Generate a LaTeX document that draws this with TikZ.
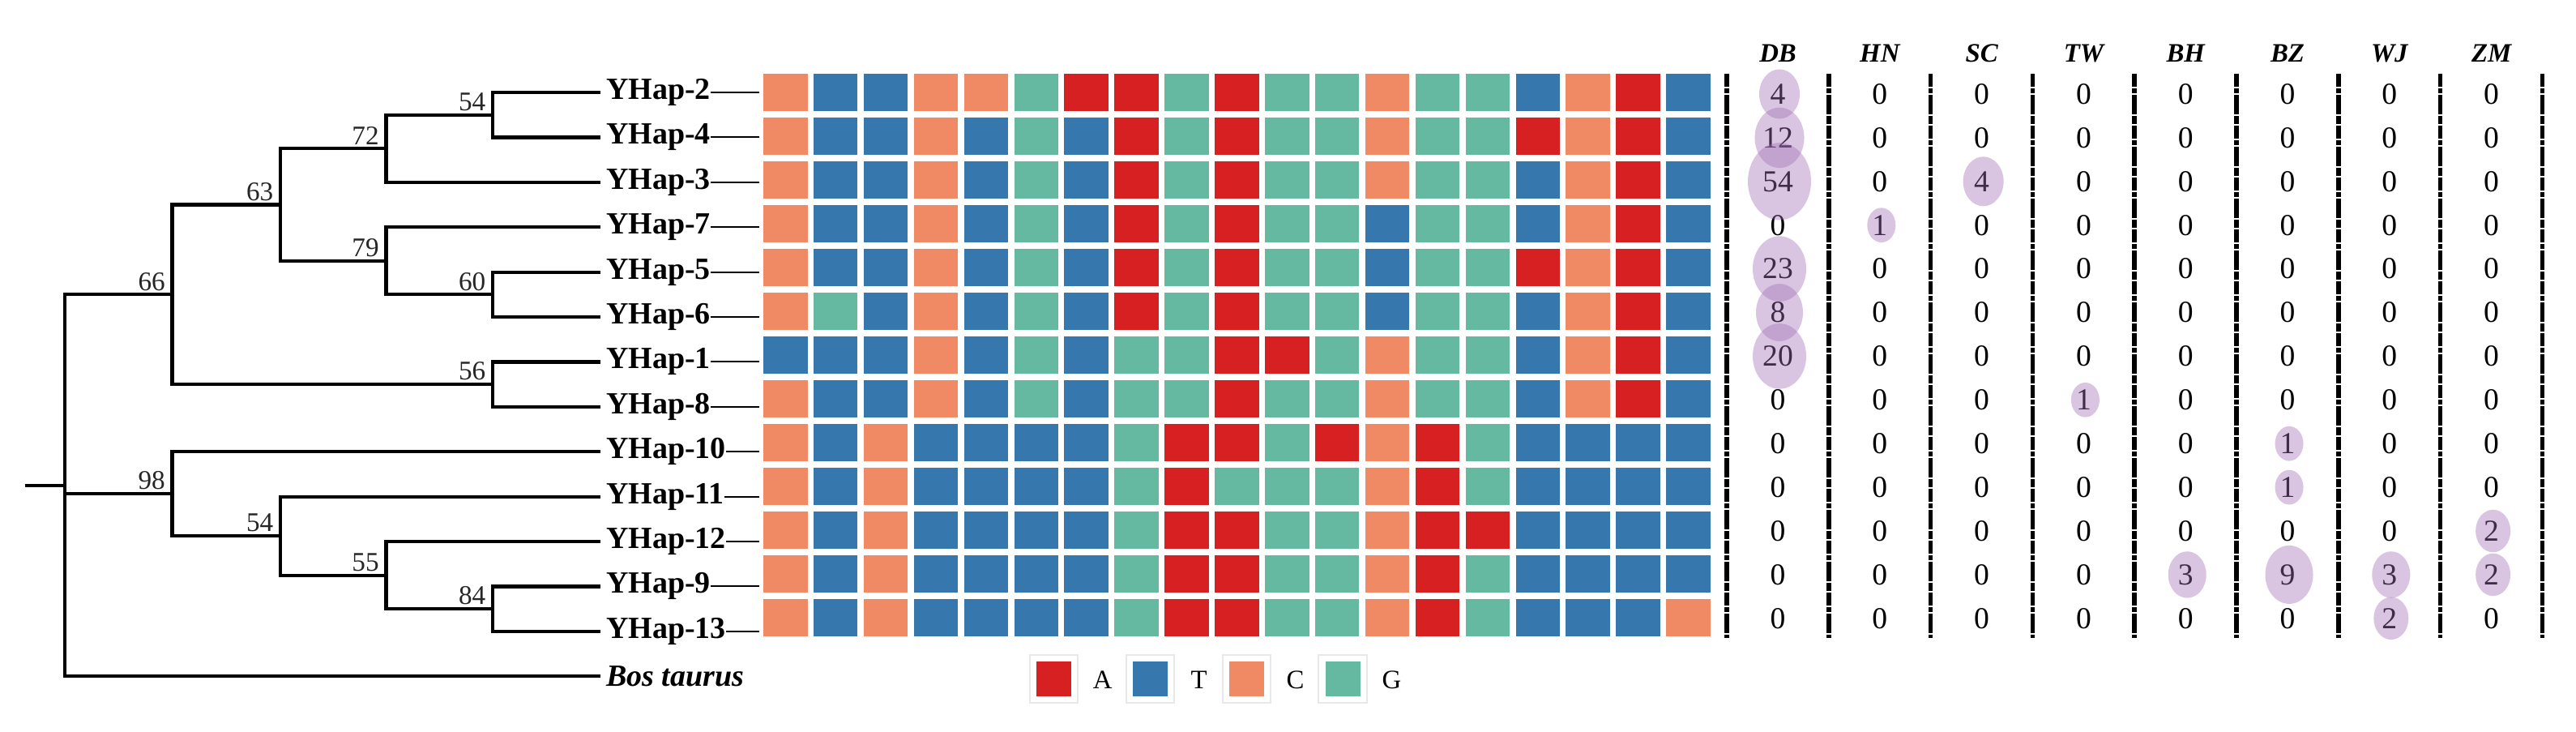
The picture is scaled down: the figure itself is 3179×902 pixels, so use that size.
\documentclass[tikz,border=0pt]{standalone}
\usepackage{fontspec}
\setmainfont{Liberation Serif}
\definecolor{cA}{RGB}{214,32,34}
\definecolor{cT}{RGB}{54,120,173}
\definecolor{cC}{RGB}{240,138,100}
\definecolor{cG}{RGB}{101,185,160}
\definecolor{bubc}{RGB}{160,110,180}
\definecolor{legfr}{RGB}{232,232,232}
\begin{document}
\begin{tikzpicture}[x=0.25pt,y=-0.25pt,
  branch/.style={line width=1.05pt, line join=miter},
  conn/.style={line width=0.5pt},
  leaf/.style={font=\fontsize{9.5}{10}\selectfont\bfseries, inner sep=0pt, outer sep=0pt, anchor=west},
  boot/.style={font=\fontsize{8.3}{9}\selectfont, inner sep=0pt, anchor=south east, text=black!85},
  val/.style={font=\fontsize{9.4}{10}\selectfont, inner sep=0pt},
  hdr/.style={font=\fontsize{8.2}{9}\selectfont\bfseries\itshape, inner sep=0pt},
  leg/.style={font=\fontsize{8.2}{9}\selectfont, inner sep=0pt},
  vline/.style={line width=1.4pt, dash pattern=on 4pt off 0.5pt on 1.5pt off 0.5pt on 6pt off 0.5pt on 2.5pt off 0.5pt},
  bub/.style={fill=bubc, fill opacity=0.4},
  legframe/.style={draw=legfr, line width=0.5pt, fill=white}]
\fill[white] (0,0) rectangle (3179,902);
\useasboundingbox (0,0) rectangle (3179,902);

% ---------- tree ----------
\coordinate (rs) at (30.6,598.75);
\coordinate (root) at (79.6,598.75);
\coordinate (n66) at (212.5,363.3);
\coordinate (n98) at (212.5,609.1);
\coordinate (n63) at (346,252.5);
\coordinate (n56) at (608,474.1);
\coordinate (n72) at (476.4,183.25);
\coordinate (n79) at (476.4,321.75);
\coordinate (n54a) at (608,141.7);
\coordinate (n60) at (608,363.3);
\coordinate (n54b) at (346,661.1);
\coordinate (n55) at (476.4,709.6);
\coordinate (n84) at (608,751.1);

\foreach \name [count=\k from 0] in {YHap-2,YHap-4,YHap-3,YHap-7,YHap-5,YHap-6,YHap-1,YHap-8,YHap-10,YHap-11,YHap-12,YHap-9,YHap-13} {
  \coordinate (t\k) at (741,{114+55.4*\k});
  \node[leaf] (L\k) at (748,{114+55.4*\k}) {\name};
  \coordinate (g\k) at (937,{114+55.4*\k});
  \draw[conn] (L\k.east) -- (g\k);
}
\coordinate (t13) at (741,834.2);
\node[leaf, font=\fontsize{9.5}{10}\selectfont\bfseries\itshape] (L13) at (748,834.2) {Bos taurus};

\draw[branch] (rs) -- (root);
\draw[branch] (root) |- (n66);
\draw[branch] (root) |- (n98);
\draw[branch] (root) |- (t13);
\draw[branch] (n66) |- (n63);
\draw[branch] (n66) |- (n56);
\draw[branch] (n63) |- (n72);
\draw[branch] (n63) |- (n79);
\draw[branch] (n72) |- (n54a);
\draw[branch] (n72) |- (t2);
\draw[branch] (n54a) |- (t0);
\draw[branch] (n54a) |- (t1);
\draw[branch] (n79) |- (t3);
\draw[branch] (n79) |- (n60);
\draw[branch] (n60) |- (t4);
\draw[branch] (n60) |- (t5);
\draw[branch] (n56) |- (t6);
\draw[branch] (n56) |- (t7);
\draw[branch] (n98) |- (t8);
\draw[branch] (n98) |- (n54b);
\draw[branch] (n54b) |- (t9);
\draw[branch] (n54b) |- (n55);
\draw[branch] (n55) |- (t10);
\draw[branch] (n55) |- (n84);
\draw[branch] (n84) |- (t11);
\draw[branch] (n84) |- (t12);

\path (n66) ++(-8,-4) node[boot] (b66) {66};
\path (n98) ++(-8,-4) node[boot] (b98) {98};
\path (n63) ++(-8,-4) node[boot] (b63) {63};
\path (n56) ++(-8,-4) node[boot] (b56) {56};
\path (n72) ++(-8,-4) node[boot] (b72) {72};
\path (n79) ++(-8,-4) node[boot] (b79) {79};
\path (n54a) ++(-8,-4) node[boot] (b54a) {54};
\path (n60) ++(-8,-4) node[boot] (b60) {60};
\path (n54b) ++(-8,-4) node[boot] (b54b) {54};
\path (n55) ++(-8,-4) node[boot] (b55) {55};
\path (n84) ++(-8,-4) node[boot] (b84) {84};

% ---------- sequence grid ----------
\foreach \seq [count=\r from 0] in {
 {C,T,T,C,C,G,A,A,G,A,G,G,C,G,G,T,C,A,T},
 {C,T,T,C,T,G,T,A,G,A,G,G,C,G,G,A,C,A,T},
 {C,T,T,C,T,G,T,A,G,A,G,G,C,G,G,T,C,A,T},
 {C,T,T,C,T,G,T,A,G,A,G,G,T,G,G,T,C,A,T},
 {C,T,T,C,T,G,T,A,G,A,G,G,T,G,G,A,C,A,T},
 {C,G,T,C,T,G,T,A,G,A,G,G,T,G,G,T,C,A,T},
 {T,T,T,C,T,G,T,G,G,A,A,G,C,G,G,T,C,A,T},
 {C,T,T,C,T,G,T,G,G,A,G,G,C,G,G,T,C,A,T},
 {C,T,C,T,T,T,T,G,A,A,G,A,C,A,G,T,T,T,T},
 {C,T,C,T,T,T,T,G,A,G,G,G,C,A,G,T,T,T,T},
 {C,T,C,T,T,T,T,G,A,A,G,G,C,A,A,T,T,T,T},
 {C,T,C,T,T,T,T,G,A,A,G,G,C,A,G,T,T,T,T},
 {C,T,C,T,T,T,T,G,A,A,G,G,C,A,G,T,T,T,C}} {
  \foreach \b [count=\c from 0] in \seq {
    \fill[c\b] ({942+61.9*\c},{90.7+54*\r}) rectangle ++(54.5,46.7);
  }
}

% ---------- legend ----------
\foreach \L [count=\i from 0] in {A,T,C,G} {
  \draw[legframe] ({1270.7+118.9*\i},808.3) rectangle ++(59.5,59);
  \fill[c\L] ({1279.2+118.9*\i},816.3) rectangle ++(43,43);
  \node[leg] (leg\L) at ({1360.7+118.9*\i},839) {\L};
}

% ---------- table ----------
\foreach \j in {0,...,8} {
  \coordinate (vt\j) at ({2131+125.8*\j},90.7);
  \coordinate (vb\j) at ({2131+125.8*\j},787);
  \draw[vline] (vt\j) -- (vb\j);
}
\foreach \h [count=\j from 0] in {DB,HN,SC,TW,BH,BZ,WJ,ZM} {
  \node[hdr] (h\h) at ({2194+125.8*\j},65.5) {\h};
}
\foreach \vals [count=\r from 0] in {
 {4,0,0,0,0,0,0,0},
 {12,0,0,0,0,0,0,0},
 {54,0,4,0,0,0,0,0},
 {0,1,0,0,0,0,0,0},
 {23,0,0,0,0,0,0,0},
 {8,0,0,0,0,0,0,0},
 {20,0,0,0,0,0,0,0},
 {0,0,0,1,0,0,0,0},
 {0,0,0,0,0,1,0,0},
 {0,0,0,0,0,1,0,0},
 {0,0,0,0,0,0,0,2},
 {0,0,0,0,3,9,3,2},
 {0,0,0,0,0,0,2,0}} {
  \foreach \v [count=\j from 0] in \vals {
    \node[val] (v-\r-\j) at ({2194+125.8*\j},{116+53.9*\r}) {\v};
  }
}
% bubbles: col, row, x radius (pt), y radius (pt)
\foreach \j/\r/\rx/\ry in {0/0/6.25/7.63, 0/1/7.63/9.3, 0/2/9.75/11.9, 0/4/8.25/10.07, 0/5/7.25/8.85, 0/6/8.25/10.07,
  1/3/4.375/5.34, 2/2/6.25/7.63, 3/7/4.375/5.34, 4/11/5.875/7.17,
  5/8/4.375/5.34, 5/9/4.375/5.34, 5/11/7.375/9.0,
  6/11/5.875/7.17, 6/12/5.375/6.56, 7/10/5.375/6.56, 7/11/5.375/6.56} {
  \fill[bub] ({2196+125.8*\j},{116+53.9*\r}) ellipse [x radius=\rx pt, y radius=\ry pt];
}
\end{tikzpicture}
\end{document}
